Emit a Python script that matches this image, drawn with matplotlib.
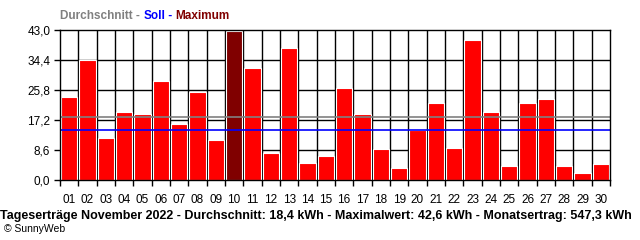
import matplotlib.pyplot as plt
from matplotlib.ticker import FixedLocator

# Tageserträge November 2022 (kWh)
tage = ['%02d' % d for d in range(1, 31)]
ertrag = [23.9, 34.3, 12.1, 19.6, 19.0, 28.5, 16.1, 25.3, 11.6, 42.6,
          32.2, 7.8, 37.9, 5.0, 7.0, 26.5, 19.0, 9.0, 3.5, 14.3,
          22.2, 9.3, 40.2, 19.6, 4.1, 22.2, 23.3, 4.1, 2.1, 4.7]
durchschnitt_linie = 18.1
soll = 14.3
y_ticks = [0.0, 8.6, 17.2, 25.8, 34.4, 43.0]
y_labels = ['0,0', '8,6', '17,2', '25,8', '34,4', '43,0']

ROT = '#ff0000'
DUNKELROT = '#800000'
GRAU = '#808080'
BLAU = '#0000ff'

plt.rcParams['font.family'] = ['Liberation Sans', 'DejaVu Sans']

fig = plt.figure(figsize=(6.4, 2.4), dpi=100)
ax = fig.add_axes([60 / 640, 60 / 240, 550 / 640, 150 / 240])

x = list(range(1, len(tage) + 1))
imax = ertrag.index(max(ertrag))
farben = [DUNKELROT if i == imax else ROT for i in range(len(ertrag))]
ax.bar(x, ertrag, width=0.9, color=farben, edgecolor='white', linewidth=0.8, zorder=3)

# Raster
for yt in y_ticks[1:-1]:
    ax.axhline(yt, color='black', lw=1.0, zorder=1)
for xb in range(1, len(tage)):
    ax.axvline(xb + 0.5, color='black', lw=1.0, zorder=1)

ax.axhline(durchschnitt_linie, color=GRAU, lw=1.2, zorder=4)
ax.axhline(soll, color=BLAU, lw=1.2, zorder=4)

ax.set_xlim(0.5, len(tage) + 0.5)
ax.set_ylim(0, 43.0)
ax.set_xticks(x)
ax.set_xticklabels(tage, fontsize=8.5)
ax.xaxis.set_minor_locator(FixedLocator([b + 0.5 for b in range(0, len(tage) + 1)]))
ax.tick_params(axis='x', which='major', length=0, pad=10)
ax.tick_params(axis='x', which='minor', length=4, width=1, color='black')
ax.set_yticks(y_ticks)
ax.set_yticklabels(y_labels, fontsize=8.5)
ax.tick_params(axis='y', length=4, width=1, pad=3)
for s in ax.spines.values():
    s.set_linewidth(1.0)
    s.set_zorder(5)

# Legende oben
fig.canvas.draw()
r = fig.canvas.get_renderer()
xpos = 60 / 640
for txt, col in [('Durchschnitt - ', GRAU), ('Soll', BLAU), (' - ', BLAU), ('Maximum', DUNKELROT)]:
    t = fig.text(xpos, 1 - 16 / 240, txt, color=col, fontsize=8.5, fontweight='bold',
                 va='center', ha='left')
    bb = t.get_window_extent(renderer=r)
    xpos += bb.width / fig.bbox.width

fig.text(316 / 640, 1 - 216 / 240,
         'Tageserträge November 2022 - Durchschnitt: 18,4 kWh - Maximalwert: 42,6 kWh - Monatsertrag: 547,3 kWh',
         ha='center', va='center', fontsize=9, fontweight='bold')
fig.text(4 / 640, 1 - 229 / 240, '© SunnyWeb', ha='left', va='center', fontsize=7.5)

fig.savefig('out.png', dpi=100)
